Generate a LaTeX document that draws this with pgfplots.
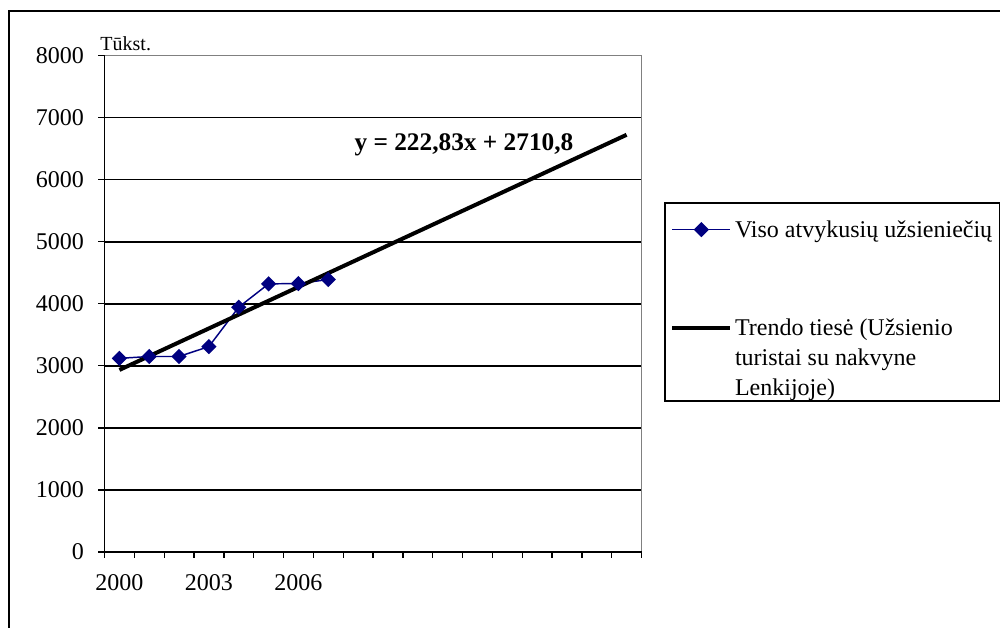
\documentclass[border=0pt]{standalone}
\usepackage{fontspec}
\setmainfont{Liberation Serif}
\usepackage{pgfplots}
\pgfplotsset{compat=1.18}
\definecolor{navy}{RGB}{0,0,128}
\definecolor{bordergray}{RGB}{128,128,128}
\begin{document}
\begin{tikzpicture}
\useasboundingbox (0,0) rectangle (750pt,471pt);
\draw[line width=1.5pt] (6.75pt,-20pt) -- (6.75pt,462.75pt) -- (770pt,462.75pt);
\begin{axis}[
  at={(78.375pt,57pt)}, anchor=south west,
  width=402.75pt, height=372.4pt, scale only axis,
  xmin=0.5, xmax=18.5, ymin=0, ymax=8000,
  ytick={0,1000,...,8000},
  yticklabels={0,1000,2000,3000,4000,5000,6000,7000,8000},
  xtick={0.5,1.5,...,18.5}, xticklabels={},
  extra x ticks={1,4,7}, extra x tick labels={2000,2003,2006},
  extra x tick style={major tick length=0pt, grid=none},
  ymajorgrids, grid style={black, line width=1.3pt},
  tick align=outside, tick pos=left, major tick length=4.5pt,
  tick style={black, line width=1pt},
  axis line style={black, line width=1.1pt},
  ticklabel style={font=\fontsize{18}{20}\selectfont},
  yticklabel style={xshift=-7.5pt},
  xticklabel style={yshift=-13.5pt},
  clip=false,
  legend cell align=left,
  legend image code/.code={\draw[mark repeat=2,mark phase=2,#1] plot coordinates {(0pt,0pt) (21.75pt,0pt) (43.5pt,0pt)};},
  legend style={at={(1.042,0.705)}, anchor=north west, draw=black, line width=1.5pt,
    font=\fontsize{18}{22.5}\selectfont, row sep=52.5pt, inner xsep=4pt, inner ysep=0pt},
  after end axis/.code={
    \draw[bordergray, line width=1.1pt] (rel axis cs:0,1) -- (rel axis cs:1,1) -- (rel axis cs:1,0);
    \draw[black, line width=1.5pt] (rel axis cs:0,0) -- (rel axis cs:1,0);
    \node[anchor=base west, font=\fontsize{15}{18}\selectfont, inner sep=0pt] at ([yshift=3.4pt]rel axis cs:-0.008,1) {Tūkst.};
    \node[font=\bfseries\fontsize{19}{21}\selectfont] at (axis cs:12.55,6560) {y = 222,83x + 2710,8};
  },
]
\addplot[navy, line width=1.1pt, mark=square*, mark size=3.5pt, mark options={rotate=45, solid}, legend image post style={yshift=-5.25pt}]
  coordinates {(1,3120) (2,3150) (3,3150) (4,3310) (5,3945) (6,4320) (7,4325) (8,4390)};
\addlegendentry{\rule{0pt}{24pt}Viso atvykusių užsieniečių}
\addplot[black, line width=3pt, legend image post style={yshift=21pt}] coordinates {(1,2933.6) (18,6721.7)};
\addlegendentry{\begin{tabular}[b]{@{}l@{}}Trendo tiesė (Užsienio\\turistai su nakvyne\\Lenkijoje)\end{tabular}}
\end{axis}
\end{tikzpicture}
\end{document}
